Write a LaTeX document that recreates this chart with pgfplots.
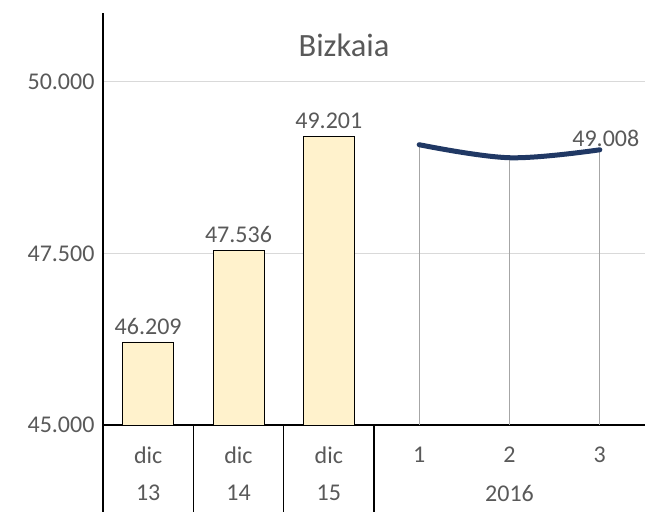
\documentclass[border=0pt]{standalone}
\usepackage{pgfplots}
\pgfplotsset{compat=1.18}
\usepackage{fontspec}
\setmainfont{Carlito}
\definecolor{txt}{HTML}{595959}
\definecolor{barfill}{HTML}{FFF2CC}
\definecolor{navy}{HTML}{203864}
\definecolor{gridc}{HTML}{D9D9D9}
\definecolor{drop}{HTML}{A6A6A6}
\begin{document}
\begin{tikzpicture}
\begin{axis}[
  name=ax,
  scale only axis,
  width=542bp, height=412bp,
  xmin=-0.5, xmax=5.5,
  ymin=45000, ymax=51000,
  axis lines*=left,
  axis line style={black, line width=1.2bp},
  xtick=\empty,
  ytick={45000,47500,50000},
  scaled y ticks=false,
  ymajorgrids,
  grid style={gridc, line width=1bp},
  major tick length=0pt,
  tick style={draw=none},
  /pgf/number format/.cd, 1000 sep={.}, assume math mode=true,
  /pgfplots/.cd,
  yticklabel style={font=\fontsize{24bp}{29bp}\selectfont, text=txt, xshift=-5bp},
  nodes near coords style={font=\fontsize{24bp}{29bp}\selectfont, text=txt},
]
\addplot[ybar, bar width=51bp, fill=barfill, draw=black, line width=0.8bp,
  nodes near coords, nodes near coords align={vertical},
  nodes near coords style={yshift=4bp}]
  coordinates {(0,46209) (1,47536) (2,49201)};
\addplot[ycomb, draw=drop, line width=1.2bp, mark=none]
  coordinates {(3,49082) (4,48892) (5,49008)};
\addplot[navy, line width=5bp, smooth, tension=0.6, line cap=round, mark=none,
  point meta=explicit symbolic, nodes near coords,
  nodes near coords style={anchor=south, xshift=6bp, yshift=-3bp}]
  coordinates {(3,49082) [] (4,48892) [] (5,49008) [49.008]};
\end{axis}
\node[font=\fontsize{32.5bp}{39bp}\selectfont, text=txt] at ([shift={(241bp,-32bp)}]ax.north west) {Bizkaia};
\begin{scope}[shift={(ax.south west)}, x=1bp, y=1bp]
  \foreach \xx in {0,90.3,180.7,271} {\draw[black, line width=1.2bp] (\xx,0) -- (\xx,-88);}
  \foreach \i/\lab in {0/dic,1/dic,2/dic,3/1,4/2,5/3} {
    \node[font=\fontsize{24bp}{29bp}\selectfont, text=txt] at ({45.2+90.3*\i},-30) {\lab};
  }
  \foreach \i/\lab in {0/13,1/14,2/15} {
    \node[font=\fontsize{24bp}{29bp}\selectfont, text=txt] at ({45.2+90.3*\i},-68) {\lab};
  }
  \node[font=\fontsize{24bp}{29bp}\selectfont, text=txt] at (406.5,-68) {2016};
  \pgfresetboundingbox
  \path (-103,-87) rectangle (543,412+13);
\end{scope}
\end{tikzpicture}
\end{document}
